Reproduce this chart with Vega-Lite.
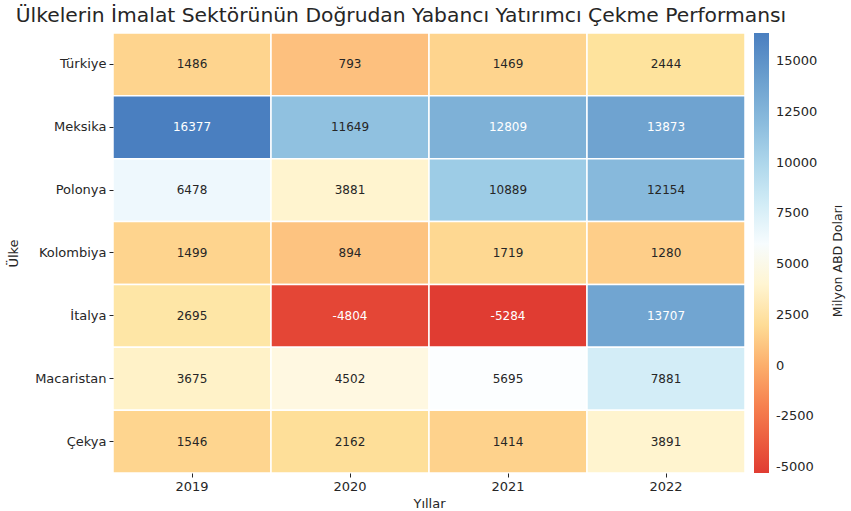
{
  "$schema": "https://vega.github.io/schema/vega-lite/v6.json",
  "width": 632,
  "height": 440,
  "autosize": {"type": "none"},
  "padding": {"left": 113, "top": 33, "right": 106, "bottom": 38},
  "background": "white",
  "title": {
    "text": "Ülkelerin İmalat Sektörünün Doğrudan Yabancı Yatırımcı Çekme Performansı",
    "fontSize": 20.3,
    "fontWeight": "normal",
    "color": "#262626",
    "anchor": "middle",
    "offset": 6,
    "dx": -28
  },
  "config": {
    "font": "DejaVu Sans",
    "view": {"stroke": null}
  },
  "data": {
    "values": [
      {"ulke": "Türkiye", "yil": "2019", "v": 1486},
      {"ulke": "Türkiye", "yil": "2020", "v": 793},
      {"ulke": "Türkiye", "yil": "2021", "v": 1469},
      {"ulke": "Türkiye", "yil": "2022", "v": 2444},
      {"ulke": "Meksika", "yil": "2019", "v": 16377},
      {"ulke": "Meksika", "yil": "2020", "v": 11649},
      {"ulke": "Meksika", "yil": "2021", "v": 12809},
      {"ulke": "Meksika", "yil": "2022", "v": 13873},
      {"ulke": "Polonya", "yil": "2019", "v": 6478},
      {"ulke": "Polonya", "yil": "2020", "v": 3881},
      {"ulke": "Polonya", "yil": "2021", "v": 10889},
      {"ulke": "Polonya", "yil": "2022", "v": 12154},
      {"ulke": "Kolombiya", "yil": "2019", "v": 1499},
      {"ulke": "Kolombiya", "yil": "2020", "v": 894},
      {"ulke": "Kolombiya", "yil": "2021", "v": 1719},
      {"ulke": "Kolombiya", "yil": "2022", "v": 1280},
      {"ulke": "İtalya", "yil": "2019", "v": 2695},
      {"ulke": "İtalya", "yil": "2020", "v": -4804},
      {"ulke": "İtalya", "yil": "2021", "v": -5284},
      {"ulke": "İtalya", "yil": "2022", "v": 13707},
      {"ulke": "Macaristan", "yil": "2019", "v": 3675},
      {"ulke": "Macaristan", "yil": "2020", "v": 4502},
      {"ulke": "Macaristan", "yil": "2021", "v": 5695},
      {"ulke": "Macaristan", "yil": "2022", "v": 7881},
      {"ulke": "Çekya", "yil": "2019", "v": 1546},
      {"ulke": "Çekya", "yil": "2020", "v": 2162},
      {"ulke": "Çekya", "yil": "2021", "v": 1414},
      {"ulke": "Çekya", "yil": "2022", "v": 3891}
    ]
  },
  "encoding": {
    "x": {
      "field": "yil", "type": "ordinal", "sort": null,
      "scale": {"paddingInner": 0, "paddingOuter": 0},
      "axis": {
        "title": "Yıllar", "labelAngle": 0, "domain": false,
        "labelFontSize": 13, "labelColor": "#262626", "titleFontSize": 13,
        "titleFontWeight": "normal", "titleColor": "#262626",
        "tickColor": "#262626", "tickSize": 4, "labelPadding": 3, "titlePadding": 4
      }
    },
    "y": {
      "field": "ulke", "type": "ordinal", "sort": null,
      "scale": {"paddingInner": 0, "paddingOuter": 0},
      "axis": {
        "title": "Ülke", "domain": false,
        "labelFontSize": 13, "labelColor": "#262626", "titleFontSize": 13,
        "titleFontWeight": "normal", "titleColor": "#262626",
        "tickColor": "#262626", "tickSize": 4, "labelPadding": 3, "titlePadding": 14
      }
    }
  },
  "layer": [
    {
      "mark": {"type": "rect", "stroke": "white", "strokeWidth": 1.5},
      "encoding": {
        "color": {
          "field": "v", "type": "quantitative",
          "scale": {
            "domain": [-5284, -2500, 0, 793, 1486, 2444, 3881, 5546, 6478, 7881, 10889, 12154, 13873, 16377],
            "range": ["#e03c32", "#f57448", "#fcae6b", "#fdc07e", "#fed48e", "#fee39d", "#fff4cf", "#ffffff", "#eef8fd", "#d3edf7", "#9dcce6", "#87b9dc", "#6fa3d0", "#4a7fc0"],
            "interpolate": "rgb"
          },
          "legend": {
            "title": "Milyon ABD Doları",
            "titleOrient": "right",
            "titleAnchor": "middle",
            "titleFontSize": 12.5,
            "titleFontWeight": "normal",
            "titleColor": "#262626",
            "labelFontSize": 13,
            "labelColor": "#262626",
            "gradientLength": 440,
            "gradientThickness": 15,
            "offset": 9,
            "labelOffset": 7,
            "values": [-5000, -2500, 0, 2500, 5000, 7500, 10000, 12500, 15000],
            "labelExpr": "'' + datum.value",
            "encode": {"title": {"update": {"angle": {"value": 270}, "dy": {"value": 23}, "dx": {"value": -8}}}}
          }
        }
      }
    },
    {
      "mark": {"type": "text", "fontSize": 12},
      "encoding": {
        "text": {"field": "v", "type": "nominal"},
        "color": {
          "condition": {"test": "datum.v > 12500 || datum.v < -4000", "value": "white"},
          "value": "#262626"
        }
      }
    }
  ]
}
